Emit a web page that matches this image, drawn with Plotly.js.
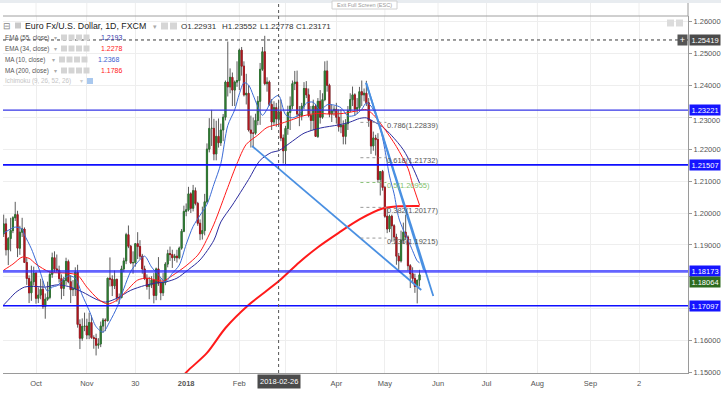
<!DOCTYPE html>
<html><head><meta charset="utf-8">
<script src="https://cdn.plot.ly/plotly-3.0.1.min.js"></script>
<style>html,body{margin:0;padding:0;background:#fff;}#chart{width:721px;height:393px;}</style>
</head><body><div id="chart"></div>
<script>
const FONT = 'Liberation Sans, Arial, sans-serif';
// ---------- daily candles (weekdays from first bar) ----------
const firstBar = '2017-09-12';
const open = [
1.1935,1.1966,1.1885,1.1920,
1.1945,1.1985,1.1995,1.1890,1.1940,
1.1950,1.1845,1.1795,1.1750,1.1785,
1.1812,1.1733,1.1743,1.1761,1.1707,
1.1730,1.1736,1.1808,1.1860,1.1825,
1.1821,1.1795,1.1764,1.1789,1.1848,
1.1785,1.1760,1.1762,1.1815,1.1651,
1.1608,1.1645,1.1646,1.1618,1.1657,
1.1610,1.1607,1.1586,1.1590,1.1646,
1.1665,1.1663,1.1796,1.1793,1.1772,
1.1792,1.1735,1.1735,1.1825,1.1850,
1.1932,1.1896,1.1844,1.1845,1.1904,
1.1895,1.1865,1.1825,1.1795,1.1770,
1.1775,1.1790,1.1742,1.1825,1.1780,
1.1750,1.1782,1.1840,1.1873,1.1870,
1.1860,1.1865,1.1860,1.1890,1.1943,
1.2005,1.2010,1.2060,1.2015,1.2070,
1.2030,1.1968,1.1935,1.1945,1.2035,
1.2200,1.2265,1.2265,1.2185,1.2240,
1.2220,1.2260,1.2300,1.2410,1.2395,
1.2425,1.2385,1.2410,1.2415,1.2510,
1.2460,1.2370,1.2375,1.2260,1.2250,
1.2250,1.2290,1.2350,1.2450,1.2505,
1.2405,1.2410,1.2340,1.2285,1.2330,
1.22931,1.2317,1.2235,1.2195,1.2265,
1.2315,1.2335,1.2405,1.2410,1.2310,
1.2305,1.2335,1.2390,1.2370,1.2305,
1.2290,1.2335,1.2240,1.2350,1.2300,
1.2355,1.2445,1.2400,1.2310,1.2320,
1.2325,1.2300,1.2270,1.2275,1.2240,
1.2280,1.2320,1.2355,1.2370,1.2325,
1.2330,1.2380,1.2370,1.2375,1.2345,
1.2290,1.2210,1.2235,1.2230,1.2105,
1.2130,1.2080,1.1990,1.1950,1.1990,
1.1960,1.1925,1.1865,1.1850,1.1915,
1.1940,1.1925,1.1835,1.1810,1.1795,
1.1770,1.1790];
const high = [
1.1995,1.1983,1.1925,1.1985,
1.1990,1.2035,1.2007,1.1960,1.1985,
1.1955,1.1860,1.1805,1.1835,1.1832,
1.1815,1.1767,1.1794,1.1788,1.1748,
1.1785,1.1818,1.1876,1.1880,1.1870,
1.1835,1.1808,1.1800,1.1860,1.1854,
1.1805,1.1790,1.1830,1.1838,1.1667,
1.1670,1.1688,1.1669,1.1688,1.1679,
1.1617,1.1622,1.1608,1.1660,1.1671,
1.1670,1.1797,1.1861,1.1805,1.1820,
1.1795,1.1748,1.1835,1.1860,1.1938,
1.1961,1.1900,1.1880,1.1905,1.1940,
1.1915,1.1872,1.1835,1.1808,1.1800,
1.1802,1.1812,1.1829,1.1862,1.1795,
1.1812,1.1846,1.1885,1.1895,1.1885,
1.1872,1.1885,1.1895,1.1950,1.2023,
1.2030,1.2082,1.2065,1.2088,1.2080,
1.2035,1.1980,1.2020,1.2060,1.2218,
1.2297,1.2323,1.2295,1.2289,1.2296,
1.2280,1.2310,1.2415,1.2537,1.2453,
1.2440,1.2415,1.2475,1.2515,1.2520,
1.2475,1.2436,1.2400,1.2305,1.2299,
1.2311,1.2366,1.2470,1.2520,1.2555,
1.2425,1.2415,1.2357,1.2350,1.2345,
1.23552,1.2355,1.2246,1.2273,1.2336,
1.2365,1.2415,1.2445,1.2446,1.2335,
1.2345,1.2410,1.2413,1.2390,1.2335,
1.2355,1.2340,1.2360,1.2385,1.2375,
1.2475,1.2477,1.2405,1.2340,1.2335,
1.2345,1.2325,1.2325,1.2290,1.2294,
1.2335,1.2375,1.2396,1.2375,1.2360,
1.2395,1.2415,1.2390,1.2414,1.2360,
1.2290,1.2255,1.2245,1.2250,1.2130,
1.2135,1.2085,1.2015,1.1995,1.1995,
1.1965,1.1935,1.1875,1.1945,1.1970,
1.1995,1.1930,1.1840,1.1830,1.1810,
1.1790,1.1822];
const low = [
1.1925,1.1867,1.1837,1.1880,
1.1937,1.1975,1.1862,1.1869,1.1925,
1.1845,1.1775,1.1718,1.1725,1.1773,
1.1716,1.1718,1.1730,1.1700,1.1669,
1.1725,1.1730,1.1797,1.1815,1.1815,
1.1782,1.1730,1.1740,1.1775,1.1780,
1.1718,1.1740,1.1740,1.1641,1.1574,
1.1600,1.1630,1.1605,1.1605,1.1606,
1.1575,1.1554,1.1575,1.1580,1.1625,
1.1630,1.1660,1.1770,1.1740,1.1762,
1.1722,1.1715,1.1733,1.1815,1.1840,
1.1890,1.1840,1.1810,1.1832,1.1856,
1.1855,1.1810,1.1790,1.1760,1.1730,
1.1765,1.1717,1.1727,1.1772,1.1727,
1.1740,1.1774,1.1830,1.1850,1.1828,
1.1850,1.1845,1.1855,1.1885,1.1940,
1.1990,1.2005,1.2000,1.2005,1.2024,
1.1960,1.1915,1.1917,1.1930,1.2030,
1.2190,1.2210,1.2165,1.2165,1.2205,
1.2210,1.2225,1.2290,1.2365,1.2375,
1.2335,1.2335,1.2395,1.2385,1.2430,
1.2365,1.2340,1.2255,1.2205,1.2206,
1.2245,1.2275,1.2276,1.2445,1.2400,
1.2380,1.2335,1.2260,1.2275,1.2270,
1.22778,1.2225,1.2155,1.2152,1.2245,
1.2260,1.2325,1.2385,1.2300,1.2272,
1.2290,1.2325,1.2360,1.2300,1.2258,
1.2260,1.2240,1.2235,1.2280,1.2295,
1.2350,1.2380,1.2300,1.2285,1.2305,
1.2280,1.2255,1.2250,1.2215,1.2215,
1.2260,1.2315,1.2335,1.2305,1.2310,
1.2320,1.2335,1.2350,1.2335,1.2270,
1.2185,1.2195,1.2180,1.2095,1.2055,
1.2070,1.1985,1.1937,1.1940,1.1910,
1.1910,1.1838,1.1822,1.1845,1.1905,
1.1915,1.1820,1.1765,1.1780,1.1750,
1.1717,1.1770];
const close = [
1.1966,1.1885,1.1920,1.1945,
1.1985,1.1995,1.1890,1.1940,1.1950,
1.1845,1.1795,1.1750,1.1785,1.1812,
1.1733,1.1743,1.1761,1.1707,1.1730,
1.1736,1.1808,1.1860,1.1825,1.1821,
1.1795,1.1764,1.1789,1.1848,1.1785,
1.1760,1.1762,1.1815,1.1651,1.1608,
1.1645,1.1646,1.1618,1.1657,1.1610,
1.1607,1.1586,1.1590,1.1646,1.1665,
1.1663,1.1796,1.1793,1.1772,1.1792,
1.1735,1.1735,1.1825,1.1850,1.1932,
1.1896,1.1844,1.1845,1.1904,1.1895,
1.1865,1.1825,1.1795,1.1770,1.1775,
1.1790,1.1742,1.1825,1.1780,1.1750,
1.1782,1.1840,1.1873,1.1870,1.1860,
1.1865,1.1860,1.1890,1.1943,1.2005,
1.2010,1.2060,1.2015,1.2070,1.2030,
1.1968,1.1935,1.1945,1.2035,1.2200,
1.2265,1.2265,1.2185,1.2240,1.2220,
1.2260,1.2300,1.2410,1.2395,1.2425,
1.2385,1.2410,1.2415,1.2510,1.2460,
1.2370,1.2375,1.2260,1.2250,1.2250,
1.2290,1.2350,1.2450,1.2505,1.2405,
1.2410,1.2340,1.2285,1.2330,1.2295,
1.23171,1.2235,1.2195,1.2265,1.2315,
1.2335,1.2405,1.2410,1.2310,1.2305,
1.2335,1.2390,1.2370,1.2305,1.2290,
1.2335,1.2240,1.2350,1.2300,1.2355,
1.2445,1.2400,1.2310,1.2320,1.2325,
1.2300,1.2270,1.2275,1.2240,1.2280,
1.2320,1.2355,1.2370,1.2325,1.2330,
1.2380,1.2370,1.2375,1.2345,1.2290,
1.2210,1.2235,1.2230,1.2105,1.2130,
1.2080,1.1990,1.1950,1.1990,1.1960,
1.1925,1.1865,1.1850,1.1915,1.1940,
1.1925,1.1835,1.1810,1.1795,1.1770,
1.1790,1.18064];

// ---------- indicator lines ----------
const ma10Dates = ['2017-09-12','2017-09-15','2017-09-19','2017-09-22','2017-09-25','2017-09-28','2017-10-02','2017-10-04','2017-10-06','2017-10-09','2017-10-11','2017-10-13','2017-10-17','2017-10-20','2017-10-25','2017-10-30','2017-11-02','2017-11-07','2017-11-10','2017-11-15','2017-11-20','2017-11-23','2017-11-28','2017-12-01','2017-12-06','2017-12-11','2017-12-14','2017-12-19','2017-12-22','2017-12-27','2018-01-01','2018-01-04','2018-01-09','2018-01-12','2018-01-17','2018-01-22','2018-01-25','2018-01-30','2018-02-01','2018-02-05','2018-02-07','2018-02-09','2018-02-13','2018-02-15','2018-02-19','2018-02-21','2018-02-26','2018-03-01','2018-03-06','2018-03-09','2018-03-14','2018-03-19','2018-03-22','2018-03-27','2018-03-30','2018-04-04','2018-04-09','2018-04-12','2018-04-17','2018-04-19','2018-04-23','2018-04-25','2018-04-27','2018-05-01','2018-05-03','2018-05-07','2018-05-09','2018-05-11','2018-05-15','2018-05-17','2018-05-21','2018-05-22'];
const ma10Vals = [1.1937,1.1950,1.1956,1.1950,1.1932,1.1888,1.1850,1.1811,1.1766,1.1755,1.1768,1.1772,1.1785,1.1803,1.1796,1.1743,1.1695,1.1644,1.1627,1.1661,1.1704,1.1763,1.1817,1.1846,1.1865,1.1831,1.1806,1.1785,1.1811,1.1837,1.1902,1.1958,1.1993,1.2027,1.2090,1.2155,1.2274,1.2323,1.2373,1.2408,1.2401,1.2369,1.2333,1.2306,1.2325,1.2354,1.2368,1.2308,1.2298,1.2309,1.2344,1.2347,1.2322,1.2339,1.2338,1.2330,1.2304,1.2306,1.2325,1.2345,1.2335,1.2309,1.2267,1.2199,1.2116,1.2060,1.1985,1.1947,1.1916,1.1882,1.1850,1.1844];

const ema34Dates = ['2017-09-12','2017-09-18','2017-09-22','2017-09-27','2017-10-02','2017-10-10','2017-10-19','2017-10-26','2017-11-01','2017-11-08','2017-11-14','2017-11-20','2017-11-24','2017-12-01','2017-12-07','2017-12-13','2017-12-18','2017-12-22','2018-01-01','2018-01-08','2018-01-10','2018-01-17','2018-01-25','2018-01-31','2018-02-06','2018-02-13','2018-02-19','2018-02-26','2018-03-05','2018-03-13','2018-03-21','2018-03-28','2018-04-05','2018-04-13','2018-04-19','2018-04-24','2018-04-30','2018-05-08','2018-05-15','2018-05-17','2018-05-22'];
const ema34Vals = [1.1821,1.1840,1.1862,1.1858,1.1840,1.1815,1.1812,1.1805,1.1768,1.1730,1.1715,1.1727,1.1755,1.1790,1.1796,1.1790,1.1787,1.1804,1.1835,1.1868,1.1890,1.1965,1.2080,1.2155,1.2215,1.2244,1.2268,1.2278,1.2290,1.2305,1.2312,1.2310,1.2312,1.2320,1.2324,1.2308,1.2272,1.2208,1.2140,1.2090,1.2025];

const ema55Dates = ['2017-09-12','2017-09-15','2017-09-19','2017-09-25','2017-10-02','2017-10-06','2017-10-13','2017-10-20','2017-10-30','2017-11-07','2017-11-13','2017-11-20','2017-11-28','2017-12-06','2017-12-13','2017-12-19','2017-12-26','2018-01-02','2018-01-09','2018-01-17','2018-01-22','2018-01-29','2018-02-07','2018-02-14','2018-02-21','2018-02-26','2018-03-06','2018-03-13','2018-03-22','2018-04-03','2018-04-10','2018-04-16','2018-04-19','2018-04-24','2018-04-30','2018-05-04','2018-05-11','2018-05-17','2018-05-22'];
const ema55Vals = [1.1712,1.1735,1.1750,1.1768,1.1770,1.1768,1.1775,1.1770,1.1753,1.1730,1.1721,1.1733,1.1758,1.1773,1.1781,1.1784,1.1796,1.1823,1.1853,1.1915,1.1972,1.2025,1.2105,1.2165,1.2190,1.2195,1.2225,1.2250,1.2266,1.2276,1.2285,1.2296,1.2298,1.2287,1.2270,1.2242,1.2198,1.2144,1.2094];

const ma200Dates = ['2017-12-27','2018-01-02','2018-01-12','2018-01-24','2018-02-07','2018-02-26','2018-03-09','2018-03-21','2018-04-03','2018-04-16','2018-04-30','2018-05-09','2018-05-22'];
const ma200Vals = [1.1478,1.1508,1.1562,1.1640,1.1712,1.1786,1.1846,1.1893,1.1938,1.1980,1.2014,1.2021,1.2022];

// ---------- drawings ----------
const hLevels = [1.23221, 1.21507, 1.18173, 1.17097];
const trendFebDates = ['2018-02-08 12:00','2018-05-22 18:00'];
const trendFebVals = [1.2210, 1.1759];
const fanDatesA = ['2018-04-18 21:00','2018-05-23 21:00'];
const fanValsA = [1.2408, 1.1822];
const fanDatesB = ['2018-04-18 21:00','2018-05-29 23:00'];
const fanValsB = [1.2408, 1.1740];
const fibRatios = ['0.786','0.618','0.5','0.382','0.236'];
const fibPrices = [1.22839, 1.21732, 1.20955, 1.20177, 1.19215];
const crossDate = '2018-02-26';
const crossPrice = 1.25419;
const lastPrice = 1.18064;

// ---------- axis labels ----------
const xTickVals = ['2017-10-02','2017-11-01','2017-11-30','2018-01-01','2018-02-01','2018-03-01','2018-04-02','2018-05-01','2018-06-01','2018-07-02','2018-08-01','2018-09-03','2018-10-02'];
const xTickText = ['Oct','Nov','30','<b>2018</b>','Feb','','Apr','May','Jun','Jul','Aug','Sep','2'];
const yTickVals = [1.15,1.16,1.17,1.18,1.19,1.20,1.21,1.22,1.23,1.24,1.25,1.26];
const yTickText = ['1.15000','1.16000','','','1.19000','1.20000','1.21000','1.22000','','1.24000','1.25000','1.26000'];
const partlyHiddenTick = 1.23;

function weekdays(start, n) {
  const out = []; const d = new Date(start + 'T00:00:00Z');
  while (out.length < n) { const w = d.getUTCDay(); if (w !== 0 && w !== 6) out.push(d.toISOString().slice(0,10)); d.setUTCDate(d.getUTCDate() + 1); }
  return out;
}
const dates = weekdays(firstBar, close.length);
const bodyHigh = open.map((o,k) => Math.max(o, close[k]));
const bodyLow = open.map((o,k) => Math.min(o, close[k]));

const UP = '#2e7d32', DN = '#b0171f', WICK = '#333333';
const traces = [
  {type:'candlestick', x:dates, open, high, low, close, whiskerwidth:0, hoverinfo:'skip',
   increasing:{line:{color:WICK,width:0.8}, fillcolor:UP}, decreasing:{line:{color:WICK,width:0.8}, fillcolor:DN}},
  {type:'candlestick', x:dates, open, high:bodyHigh, low:bodyLow, close, whiskerwidth:0, hoverinfo:'skip',
   increasing:{line:{color:UP,width:0.7}, fillcolor:UP}, decreasing:{line:{color:DN,width:0.7}, fillcolor:DN}},
  {type:'scatter', mode:'lines', x:ma200Dates, y:ma200Vals, line:{color:'#ff1a1a', width:2, shape:'spline', smoothing:0.8}, hoverinfo:'skip'},
  {type:'scatter', mode:'lines', x:ema55Dates, y:ema55Vals, line:{color:'#2c2c9e', width:1, shape:'spline', smoothing:0.8}, hoverinfo:'skip'},
  {type:'scatter', mode:'lines', x:ema34Dates, y:ema34Vals, line:{color:'#ff1a1a', width:1, shape:'spline', smoothing:0.8}, hoverinfo:'skip'},
  {type:'scatter', mode:'lines', x:ma10Dates, y:ma10Vals, line:{color:'#3a6ad6', width:1, shape:'spline', smoothing:0.8}, hoverinfo:'skip'},
  {type:'scatter', mode:'lines', x:trendFebDates, y:trendFebVals, line:{color:'#4a90e2', width:1.8}, hoverinfo:'skip'},
  {type:'scatter', mode:'lines', x:fanDatesA, y:fanValsA, line:{color:'#4a90e2', width:1.8}, hoverinfo:'skip'},
  {type:'scatter', mode:'lines', x:fanDatesB, y:fanValsB, line:{color:'#4a90e2', width:1.8}, hoverinfo:'skip'}
];

// pixel -> paper helpers for decorations
const PX = p => (p - 3) / 685;
const PY = p => (373 - p) / 357;
const shapes = [];
const annotations = [];
function rectPx(x, y, w, h, fill, line) {
  shapes.push({type:'rect', xref:'paper', yref:'paper', x0:PX(x), x1:PX(x+w), y0:PY(y+h), y1:PY(y), fillcolor:fill, line:{color:line||fill, width:line?1:0}, layer:'above'});
}
function txt(x, y, s, size, color, extra) {
  annotations.push(Object.assign({xref:'paper', yref:'paper', x:PX(x), y:PY(y), xanchor:'left', yanchor:'middle', text:s, showarrow:false, borderpad:0, font:{family:FONT, size:size, color:color}}, extra||{}));
}

// top strip + frame
shapes.push({type:'rect', xref:'paper', yref:'paper', x0:PX(0), x1:PX(721), y0:PY(3), y1:PY(0), fillcolor:'#e8ecf0', line:{width:0}, layer:'above'});
shapes.push({type:'line', xref:'paper', yref:'paper', x0:PX(3), x1:PX(688), y0:1, y1:1, line:{color:'#a0a0a0', width:1}, layer:'above'});
shapes.push({type:'line', xref:'paper', yref:'paper', x0:1, x1:1, y0:1, y1:PY(3), line:{color:'#9a9a9a', width:1}, layer:'above'});
xTickVals.forEach(v => shapes.push({type:'line', xref:'x', yref:'paper', x0:v, x1:v, y0:1, y1:PY(3), line:{color:'#eeeeee', width:1}, layer:'below'}));

// horizontal levels
const hStyle = [{c:'#3434e6',w:1.2},{c:'#0f0fff',w:1.6},{c:'rgba(40,40,255,0.72)',w:2.6},{c:'#0f0fff',w:1.6}];
hLevels.forEach((v,k) => shapes.push({type:'line', xref:'paper', yref:'y', x0:0, x1:1, y0:v, y1:v, line:{color:hStyle[k].c, width:hStyle[k].w}, layer:'above'}));

// fib levels
fibPrices.forEach((v,k) => {
  const green = fibRatios[k] === '0.5';
  shapes.push({type:'line', xref:'x', yref:'y', x0:'2018-04-16 10:00', x1:'2018-05-01 16:00', y0:v, y1:v, line:{color: green ? '#8cc47a' : '#9a9a9a', width:1, dash:'dot'}, layer:'above'});
  annotations.push({xref:'x', yref:'y', x:'2018-05-01 16:00', y:v, xanchor:'left', yanchor:'middle', yshift:-3, showarrow:false, borderpad:0,
    text: fibRatios[k] + '(' + v.toFixed(5) + ')', font:{family:FONT, size:7.5, color: green ? '#7fbf6a' : '#555'}});
});

// crosshair
shapes.push({type:'line', xref:'paper', yref:'y', x0:0, x1:1, y0:crossPrice, y1:crossPrice, line:{color:'#3a3a3a', width:1, dash:'3px,3px'}, layer:'above'});
shapes.push({type:'line', xref:'x', yref:'paper', x0:crossDate, x1:crossDate, y0:0, y1:PY(3), line:{color:'#555', width:1, dash:'3px,3px'}, layer:'above'});
annotations.push({xref:'x', yref:'paper', x:crossDate, y:PY(381), xanchor:'center', yanchor:'middle', text:'2018-02-26', showarrow:false,
  bgcolor:'#4b4b4b', borderpad:2, font:{family:FONT, size:7.5, color:'#fff'}});

// tick label partly hidden under the 1.23221 tag (peeks out below it)
annotations.push({xref:'paper', yref:'y', x:1, y:partlyHiddenTick, xanchor:'left', yanchor:'middle', xshift:4, yshift:-3, text:partlyHiddenTick.toFixed(5),
  showarrow:false, borderpad:0, font:{family:FONT, size:7.5, color:'#555'}});

// price tags on the axis
function tag(v, bg, shift) {
  annotations.push({xref:'paper', yref:'y', x:1, y:v, xanchor:'left', yanchor:'middle', xshift:1, yshift:shift||0, text:v.toFixed(5), showarrow:false,
    bgcolor:bg, width:30, height:10, borderpad:0, font:{family:FONT, size:7.5, color:'#fff'}});
}
tag(crossPrice, '#4b4b4b');
hLevels.forEach(v => tag(v, '#1515ff'));
tag(lastPrice, '#2d6b1f', -7);
annotations.push({xref:'paper', yref:'y', x:PX(682), y:crossPrice, xanchor:'center', yanchor:'middle', text:'+', showarrow:false,
  bgcolor:'#555', width:9, height:10, borderpad:0, font:{family:FONT, size:9, color:'#fff'}});

// header
txt(2, 26, '⊟', 9, '#888');
rectPx(15, 22.5, 6, 6, '#c9c9c9');
txt(24, 26, 'Euro Fx/U.S. Dollar, 1D, FXCM', 8.8, '#222');
txt(152, 26, '▾', 7, '#aaa');
rectPx(161, 22.5, 7, 7, '#d6d6d6'); rectPx(170, 22.5, 7, 7, '#d6d6d6');
txt(180, 26, 'O1.22931', 8, '#333');
txt(221, 26, 'H1.23552', 8, '#333');
txt(259, 26, 'L1.22778', 8, '#333');
txt(295, 26, 'C1.23171', 8, '#333');
rectPx(667, 19.5, 7, 7, '#dcdcdc'); rectPx(676, 19.5, 7, 7, '#dcdcdc');

// indicator legend
const legRows = [
  {y:37.5, name:'EMA (55, close)', val:'1.2193', col:'#3535a8', bx:61, vx:100},
  {y:48.5, name:'EMA (34, close)', val:'1.2278', col:'#ff2020', bx:61, vx:100},
  {y:59.5, name:'MA (10, close)', val:'1.2368', col:'#3d5fd0', bx:59, vx:97},
  {y:70.5, name:'MA (200, close)', val:'1.1786', col:'#ff2020', bx:61, vx:100}
];
legRows.forEach(r => {
  txt(4, r.y, r.name, 6.3, '#555');
  txt(r.bx - 8, r.y, '▾', 5.5, '#aaa');
  for (let k = 0; k < 4; k++) rectPx(r.bx + k*7.5, r.y - 3, 6, 6, '#d4d4d4');
  txt(r.vx, r.y, r.val, 7, r.col);
});
txt(4, 81, 'Ichimoku (9, 26, 52, 26)', 6.3, '#c4c4c4');
txt(79, 81, '▾', 5.5, '#ccc');
rectPx(87, 78, 6, 6, '#a9c8ee');

// full screen tooltip
rectPx(332, 1, 65, 8, '#ffffff', '#d0d0d0');
txt(364.5, 5, 'Exit Full Screen (ESC)', 5.5, '#999', {xanchor:'center'});

const layout = {
  width:721, height:393,
  margin:{l:3, r:33, t:16, b:20, pad:0},
  paper_bgcolor:'#ffffff', plot_bgcolor:'#ffffff',
  showlegend:false, hovermode:false, dragmode:false,
  font:{family:FONT, size:8, color:'#555'},
  xaxis:{type:'date', range:['2017-09-11 17:00','2018-10-31 05:00'], rangebreaks:[{bounds:['sat','mon']}],
    rangeslider:{visible:false}, tickmode:'array', tickvals:xTickVals, ticktext:xTickText,
    showgrid:true, gridcolor:'#eeeeee', gridwidth:1, ticks:'outside', ticklen:3, tickcolor:'rgba(0,0,0,0)',
    tickfont:{family:FONT, size:7.5, color:'#555'}, showline:true, linecolor:'#9a9a9a', linewidth:1, zeroline:false, fixedrange:true},
  yaxis:{side:'right', range:[1.1499, 1.2617], tickmode:'array', tickvals:yTickVals, ticktext:yTickText,
    showgrid:true, gridcolor:'#eeeeee', gridwidth:1, ticks:'outside', ticklen:3, tickcolor:'#9a9a9a',
    tickfont:{family:FONT, size:7.5, color:'#555'}, showline:true, linecolor:'#9a9a9a', linewidth:1, zeroline:false, fixedrange:true},
  shapes:shapes, annotations:annotations
};
Plotly.newPlot('chart', traces, layout, {staticPlot:true, displayModeBar:false});
</script>
</body></html>
